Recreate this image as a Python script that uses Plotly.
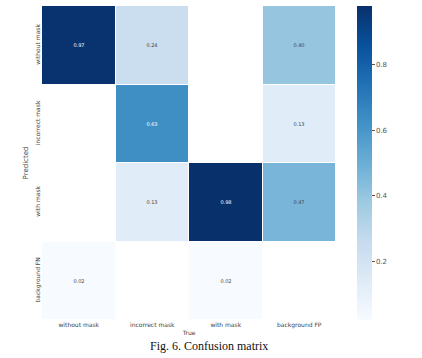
import plotly.graph_objects as go
import math

true_labels = ["without mask", "incorrect mask", "with mask", "background FP"]
pred_labels = ["without mask", "incorrect mask", "with mask", "background FN"]
nan = float("nan")
row_without = [0.97, 0.24, nan, 0.40]
row_incorrect = [nan, 0.63, nan, 0.13]
row_with = [nan, 0.13, 0.98, 0.47]
row_bgfn = [0.02, nan, 0.02, nan]
z = [row_without, row_incorrect, row_with, row_bgfn]
text = [["" if math.isnan(v) else f"{v:.2f}" for v in r] for r in z]

blues = [
    [0.0, "rgb(247,251,255)"], [0.125, "rgb(222,235,247)"], [0.25, "rgb(198,219,239)"],
    [0.375, "rgb(158,202,225)"], [0.5, "rgb(107,174,214)"], [0.625, "rgb(66,146,198)"],
    [0.75, "rgb(33,113,181)"], [0.875, "rgb(8,81,156)"], [1.0, "rgb(8,48,107)"],
]

fig = go.Figure(go.Heatmap(
    z=z, x=true_labels, y=pred_labels, text=text, texttemplate="%{text}",
    textfont=dict(size=5, family="DejaVu Sans"),
    colorscale=blues, zmin=0.02, zmax=0.98, xgap=1, ygap=1,
    hoverongaps=False,
    colorbar=dict(
        thickness=15, len=1.0, lenmode="fraction", y=0.5, yanchor="middle",
        x=1.071, xanchor="left", xpad=0, ypad=0, outlinewidth=0,
        tickvals=[0.2, 0.4, 0.6, 0.8], ticktext=["0.2", "0.4", "0.6", "0.8"],
        ticks="outside", ticklen=3, tickcolor="#555",
        tickfont=dict(size=7, color="#555", family="DejaVu Sans"),
    ),
))

fig.update_layout(
    width=422, height=358,
    margin=dict(l=42, r=86, t=6, b=38, autoexpand=False),
    paper_bgcolor="white", plot_bgcolor="white",
    font=dict(family="DejaVu Sans", color="#444"),
    xaxis=dict(showgrid=False, zeroline=False, ticks="", tickfont=dict(size=6, color="#444"),
               automargin=False,
               title=dict(text="True", font=dict(size=6, color="#444"), standoff=2)),
    yaxis=dict(showgrid=False, zeroline=False, ticks="", autorange="reversed",
               automargin=False,
               tickangle=-90, tickfont=dict(size=6, color="#444"),
               title=dict(text="Predicted", font=dict(size=7, color="#444"), standoff=4)),
    annotations=[dict(
        text="Fig. 6. Confusion matrix", xref="paper", yref="paper",
        x=(209 - 42) / 294, y=-(346 - 320) / 314, xanchor="center", yanchor="middle",
        showarrow=False, font=dict(family="Liberation Serif", size=12, color="#111"),
    )],
)

fig.write_html("out.html", config={"displayModeBar": False},
               post_script="document.body.style.margin='0px';")
